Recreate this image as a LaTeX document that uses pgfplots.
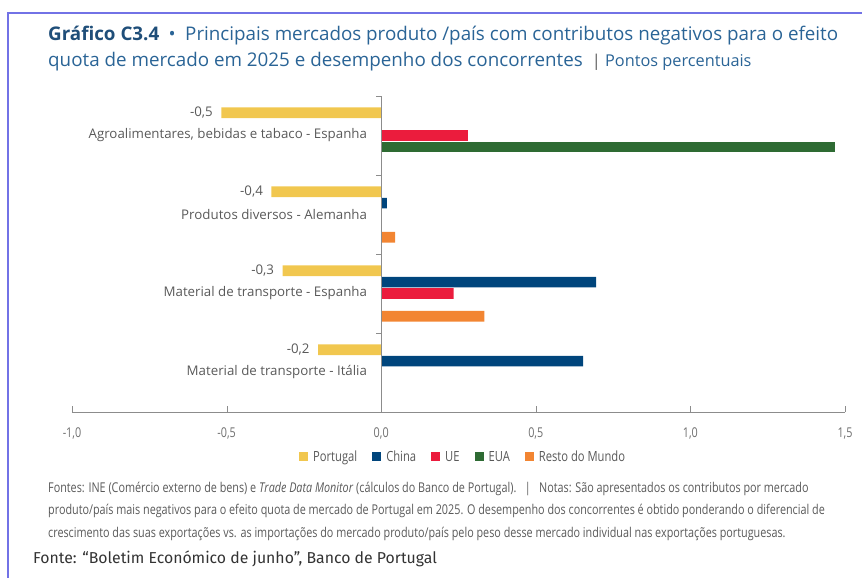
\documentclass[border=0pt]{standalone}
\usepackage{fontspec}
\setmainfont{Open Sans}
\newfontfamily\cond{Open Sans}[FakeStretch=0.8]
\newfontfamily\fira{Fira Sans}
\usepackage{pgfplots}
\pgfplotsset{compat=1.18}
\definecolor{frame}{HTML}{7272E6}
\definecolor{tblueA}{HTML}{1F4E79}
\definecolor{tblueB}{HTML}{2A6496}
\definecolor{labgray}{HTML}{595959}
\definecolor{tickgray}{HTML}{6E6E6E}
\definecolor{axgray}{HTML}{8C8C8C}
\definecolor{cPT}{HTML}{F1C74F}
\definecolor{cCN}{HTML}{00457C}
\definecolor{cUE}{HTML}{EB1C3D}
\definecolor{cUS}{HTML}{2E6B33}
\definecolor{cRM}{HTML}{F28532}
\begin{document}
\begin{tikzpicture}
\useasboundingbox (0pt,0pt) rectangle (862pt,578pt);
\draw[frame, line width=1.5pt] (8pt,0pt) -- (8pt,565pt) -- (862pt,565pt);
% title
\node[anchor=west, inner sep=0pt, font=\fontsize{18.8}{22}\selectfont] at (48pt,542pt)
  {{\color{tblueA}\bfseries Gráfico C3.4}\enspace{\color{tblueB}•\enspace Principais mercados produto /país com contributos negativos para o efeito}};
\node[anchor=west, inner sep=0pt, font=\fontsize{18.8}{22}\selectfont, text=tblueB] at (48pt,516pt)
  {quota de mercado em 2025 e desempenho dos concorrentes {\fontsize{16.3}{18}\selectfont\ \textcolor{labgray}{|}\ Pontos percentuais}};
\begin{axis}[
  at={(72pt,166pt)}, anchor=south west, scale only axis,
  width=773pt, height=316pt,
  xmin=-1, xmax=1.5, ymin=-0.5, ymax=3.5, y dir=reverse,
  axis x line*=bottom, axis y line=none,
  x axis line style={draw=axgray},
  xtick={-1,-0.5,0,0.5,1,1.5},
  xtick align=inside, major tick length=6pt,
  tick style={draw=axgray},
  ytick=\empty,
  /pgf/number format/assume math mode=true,
  /pgf/number format/use comma,
  /pgf/number format/fixed,
  /pgf/number format/fixed zerofill,
  /pgf/number format/precision=1,
  xticklabel style={font=\cond\fontsize{13.5}{15}\selectfont, text=tickgray, yshift=-12pt},
  xbar, bar width=0.135,
  legend style={at={(0.506,-0.142)}, anchor=center, legend columns=-1, draw=none,
    font=\cond\fontsize{14}{15}\selectfont, text=labgray,
    /tikz/every even column/.append style={column sep=13pt}},
  legend image code/.code={\fill[#1] (0pt,-4.5pt) rectangle (9pt,4.5pt); \path (12pt,0pt);},
  clip=false,
]
\addplot[fill=cPT, draw=none, bar shift=-0.287,
  nodes near coords, point meta=explicit symbolic,
  nodes near coords style={anchor=east, xshift=-5pt, font=\fontsize{13.3}{15}\selectfont, text=labgray}]
  table[meta=lab] {
x y lab
-0.517 0 -0,5
-0.355 1 -0,4
-0.319 2 -0,3
-0.204 3 -0,2
};
\addlegendentry{Portugal}
\addplot[fill=cCN, draw=none, bar shift=-0.1435] table {
x y
0.018 1
0.695 2
0.653 3
};
\addlegendentry{China}
\addplot[fill=cUE, draw=none, bar shift=0] table {
x y
0.280 0
0.234 2
};
\addlegendentry{UE}
\addplot[fill=cUS, draw=none, bar shift=0.1435] table {
x y
1.469 0
};
\addlegendentry{EUA}
\addplot[fill=cRM, draw=none, bar shift=0.287] table {
x y
0.045 1
0.334 2
};
\addlegendentry{Resto do Mundo}
% y axis line at zero with ticks
\draw[axgray] (axis cs:0,-0.5) -- (axis cs:0,3.5);
\draw[axgray] (axis cs:0,-0.5) -- ++(-5pt,0pt);
\draw[axgray] (axis cs:0,0.5) -- ++(-5pt,0pt);
\draw[axgray] (axis cs:0,1.5) -- ++(-5pt,0pt);
\draw[axgray] (axis cs:0,2.5) -- ++(-5pt,0pt);
% category labels
\begin{scope}[every node/.style={anchor=east, inner sep=0pt, xshift=-14pt, font=\fontsize{13.3}{15}\selectfont, text=labgray}]
\node at (axis cs:0,0) {Agroalimentares, bebidas e tabaco - Espanha};
\node at (axis cs:0,1) {Produtos diversos - Alemanha};
\node at (axis cs:0,2) {Material de transporte - Espanha};
\node at (axis cs:0,3) {Material de transporte - Itália};
\end{scope}
\end{axis}
% footnotes
\begin{scope}
\clip (0pt,0pt) rectangle (862pt,578pt);
\begin{scope}[every node/.style={anchor=west, inner sep=0pt, font=\cond\fontsize{13.5}{15}\selectfont, text=labgray}]
\node at (48pt,89pt) {Fontes: INE (Comércio externo de bens) e \textit{Trade Data Monitor} (cálculos do Banco de Portugal).\ \ \ |\ \ \ Notas: São apresentados os contributos por mercado};
\node at (48pt,67pt) {produto/país mais negativos para o efeito quota de mercado de Portugal em 2025. O desempenho dos concorrentes é obtido ponderando o diferencial de};
\node at (48pt,44pt) {crescimento das suas exportações vs. as importações do mercado produto/país pelo peso desse mercado individual nas exportações portuguesas.};
\end{scope}
\end{scope}
\node[anchor=west, inner sep=0pt, font=\fira\fontsize{15.8}{18}\selectfont, text=black!80] at (33pt,19pt) {Fonte: “Boletim Económico de junho”, Banco de Portugal};
\end{tikzpicture}
\end{document}
